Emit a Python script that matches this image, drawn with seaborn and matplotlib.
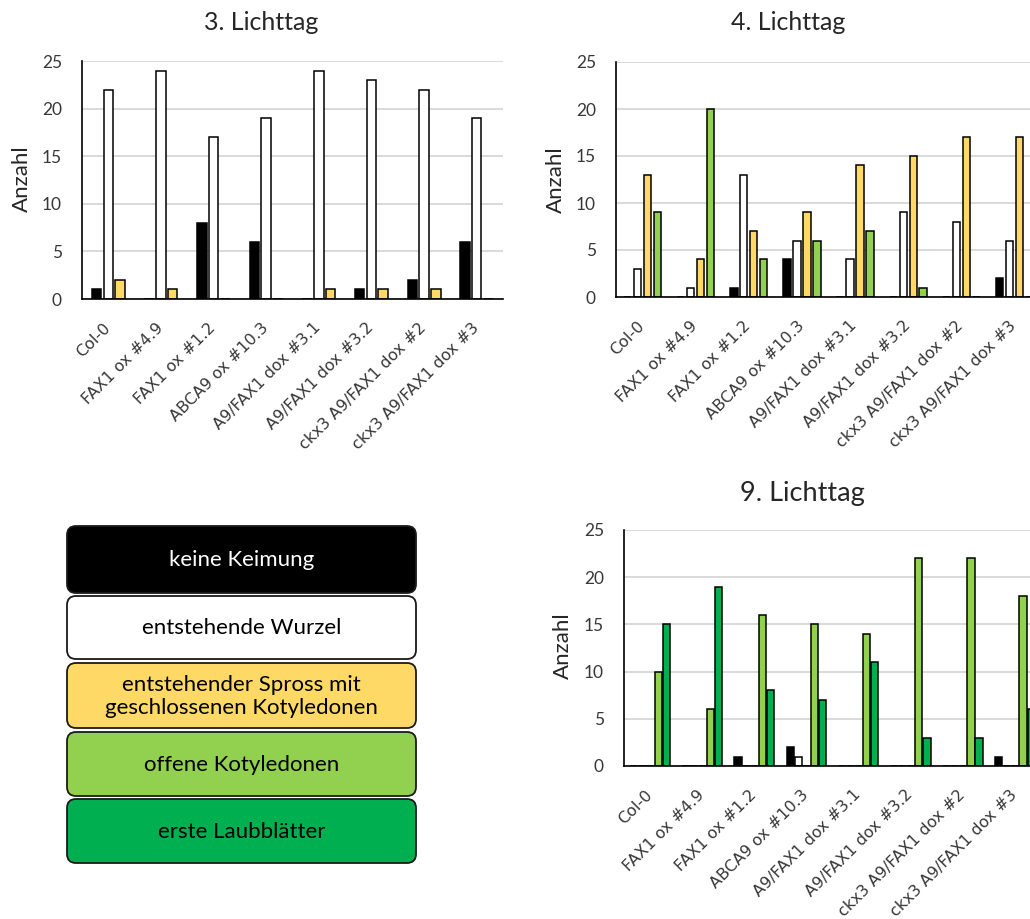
import numpy as np
import pandas as pd
import seaborn as sns
import matplotlib.pyplot as plt
import matplotlib.transforms as mtransforms
from matplotlib.patches import FancyBboxPatch

sns.set_style("white")
plt.rcParams["font.family"] = ["Lato", "DejaVu Sans"]

# ---- data -------------------------------------------------------------
linien = ["Col-0", "FAX1 ox #4.9", "FAX1 ox #1.2", "ABCA9 ox #10.3",
          "A9/FAX1 dox #3.1", "A9/FAX1 dox #3.2",
          "ckx3 A9/FAX1 dox #2", "ckx3 A9/FAX1 dox #3"]
stadien = ["keine Keimung", "entstehende Wurzel",
           "entstehender Spross mit\ngeschlossenen Kotyledonen",
           "offene Kotyledonen", "erste Laubblätter"]
farben = ["#000000", "#FFFFFF", "#FFD966", "#92D050", "#00B050"]

# 3. Lichttag
t3_keine = [1, 0, 8, 6, 0, 1, 2, 6]
t3_wurzel = [22, 24, 17, 19, 24, 23, 22, 19]
t3_spross = [2, 1, 0, 0, 1, 1, 1, 0]

# 4. Lichttag
t4_keine = [0, 0, 1, 4, 0, 0, 0, 2]
t4_wurzel = [3, 1, 13, 6, 4, 9, 8, 6]
t4_spross = [13, 4, 7, 9, 14, 15, 17, 17]
t4_offen = [9, 20, 4, 6, 7, 1, 0, 0]

# 9. Lichttag
t9_keine = [0, 0, 1, 2, 0, 0, 0, 1]
t9_wurzel = [0, 0, 0, 1, 0, 0, 0, 0]
t9_spross = [0, 0, 0, 0, 0, 0, 0, 0]
t9_offen = [10, 6, 16, 15, 14, 22, 22, 18]
t9_laub = [15, 19, 8, 7, 11, 3, 3, 6]


def long_table(serien):
    rows = []
    for stadium, werte in serien:
        for linie, w in zip(linien, werte):
            rows.append({"Linie": linie, "Stadium": stadium, "Anzahl": w})
    return pd.DataFrame(rows)


tag3 = long_table(zip(stadien[:3], [t3_keine, t3_wurzel, t3_spross]))
tag4 = long_table(zip(stadien[:4], [t4_keine, t4_wurzel, t4_spross, t4_offen]))
tag9 = long_table(zip(stadien, [t9_keine, t9_wurzel, t9_spross, t9_offen, t9_laub]))

# ---- figure -----------------------------------------------------------
W, H = 1030, 919
fig = plt.figure(figsize=(W / 100, H / 100), dpi=100)


def rect(left, right, top, bottom):
    return [left / W, 1 - bottom / H, (right - left) / W, (bottom - top) / H]


TXT = "#383838"


def chart(r, df, n, width, gap, title, title_xy, title_size, ylabel_xy):
    ax = fig.add_axes(rect(*r))
    sns.barplot(data=df, x="Linie", y="Anzahl", hue="Stadium", order=linien,
                hue_order=stadien[:n], palette=farben[:n], saturation=1,
                width=width, gap=gap, edgecolor="black", linewidth=1.1,
                errorbar=None, legend=False, ax=ax)
    ax.set_xlim(-0.5, len(linien) - 0.5)
    ax.set_ylim(0, 25)
    ax.set_yticks(range(0, 26, 5))
    ax.yaxis.grid(True, color="#D9D9D9", lw=1.4)
    ax.xaxis.grid(False)
    ax.set_axisbelow(True)
    for s in ["top", "right"]:
        ax.spines[s].set_visible(False)
    for s in ["left", "bottom"]:
        ax.spines[s].set_color("black")
        ax.spines[s].set_linewidth(1.2)
    ax.set_xlabel("")
    ax.set_ylabel("")
    # category borders carry the tick marks; names sit under the centres
    ax.set_xticks(np.arange(-0.5, len(linien), 1))
    ax.set_xticklabels([])
    ax.tick_params(axis="x", direction="inout", length=8, width=1.2,
                   color="black")
    shift = mtransforms.ScaledTranslation(5 / 100, -21 / 100,
                                          fig.dpi_scale_trans)
    trans = ax.get_xaxis_transform() + shift
    for i, name in enumerate(linien):
        ax.text(i, 0, name, transform=trans, rotation=45, ha="right",
                va="top", fontsize=11.5, fontfamily="DejaVu Sans", color=TXT,
                clip_on=False)
    ax.tick_params(axis="y", direction="inout", length=9, width=1.2,
                   color="black", labelsize=12.5, labelcolor=TXT, pad=10)
    fig.text(title_xy[0] / W, 1 - title_xy[1] / H, title, ha="center",
             va="center", fontsize=title_size, color="#262626")
    fig.text(ylabel_xy[0] / W, 1 - ylabel_xy[1] / H, "Anzahl", rotation=90,
             ha="center", va="center", fontsize=16, color="#262626")
    return ax


chart((82, 503, 61, 299), tag3, 3, 0.67, 0.2, "3. Lichttag", (261, 22), 18,
      (22, 179))
chart((616, 1041, 62, 297), tag4, 4, 0.75, 0.27, "4. Lichttag", (788, 22), 18,
      (556, 180))
chart((624, 1041, 530, 766), tag9, 5, 0.78, 0.12, "9. Lichttag", (802, 493),
      19.5, (563, 646))

# ---- colour key -------------------------------------------------------
kx0, kx1, ky0, ky1 = 64, 420, 522, 867
kax = fig.add_axes(rect(kx0, kx1, ky0, ky1))
kax.set_xlim(kx0, kx1)
kax.set_ylim(ky1, ky0)
kax.axis("off")
boxen = [(526, 593), (596, 659), (663, 728), (732, 796), (799, 863)]
for (top, bottom), label, farbe in zip(boxen, stadien, farben):
    kax.add_patch(FancyBboxPatch((67, top), 416 - 67, bottom - top,
                                 boxstyle="round,pad=0,rounding_size=9",
                                 facecolor=farbe, edgecolor="#1a1a1a",
                                 linewidth=1.3))
    kax.text((67 + 416) / 2, (top + bottom) / 2 + 1, label, ha="center",
             va="center", fontsize=16, linespacing=1.15,
             color="white" if farbe == "#000000" else "black")

fig.savefig("out.png", dpi=100)
